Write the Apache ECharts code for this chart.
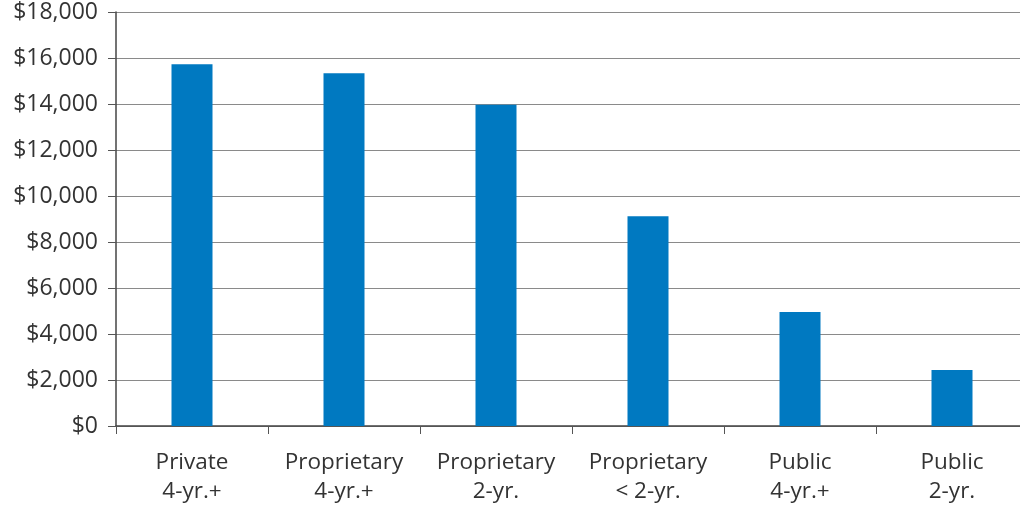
<!DOCTYPE html>
<html>
<head>
<meta charset="utf-8">
<script src="https://cdn.jsdelivr.net/npm/echarts@6/dist/echarts.min.js"></script>
<style>html,body{margin:0;padding:0;background:#fff}#c{width:1020px;height:506px}</style>
</head>
<body>
<div id="c"></div>
<script>
var categories = ['Private\n4-yr.+', 'Proprietary\n4-yr.+', 'Proprietary\n2-yr.', 'Proprietary\n< 2-yr.', 'Public\n4-yr.+', 'Public\n2-yr.'];
var values = [15730, 15340, 13970, 9120, 4960, 2430];
var yTicks = { min: 0, max: 18000, interval: 2000 };

var chart = echarts.init(document.getElementById('c'), null, { renderer: 'canvas' });
chart.setOption({
  animation: false,
  grid: { left: 116, top: 12, width: 912, height: 414, outerBoundsMode: 'none', containLabel: false },
  xAxis: {
    type: 'category',
    data: categories,
    axisLine: { lineStyle: { color: '#444', width: 1.5 } },
    axisTick: { show: true, length: 8, lineStyle: { color: '#555', width: 1 } },
    axisLabel: { color: '#333', fontSize: 22.5, fontFamily: 'Open Sans', lineHeight: 29, margin: 22, interval: 0 }
  },
  yAxis: {
    type: 'value',
    min: yTicks.min, max: yTicks.max, interval: yTicks.interval,
    axisLine: { show: true, lineStyle: { color: '#444', width: 1.5 } },
    axisTick: { show: true, length: 8, lineStyle: { color: '#555', width: 1 } },
    splitLine: { lineStyle: { color: '#8a8a8a', width: 1.2 } },
    axisLabel: {
      color: '#333', fontSize: 23, fontFamily: 'Open Sans', margin: 18,
      formatter: function (v) { return '$' + v.toLocaleString('en-US'); }
    }
  },
  series: [{
    type: 'bar',
    data: values,
    barWidth: 41,
    itemStyle: { color: '#0079c1' }
  }]
});
</script>
</body>
</html>
